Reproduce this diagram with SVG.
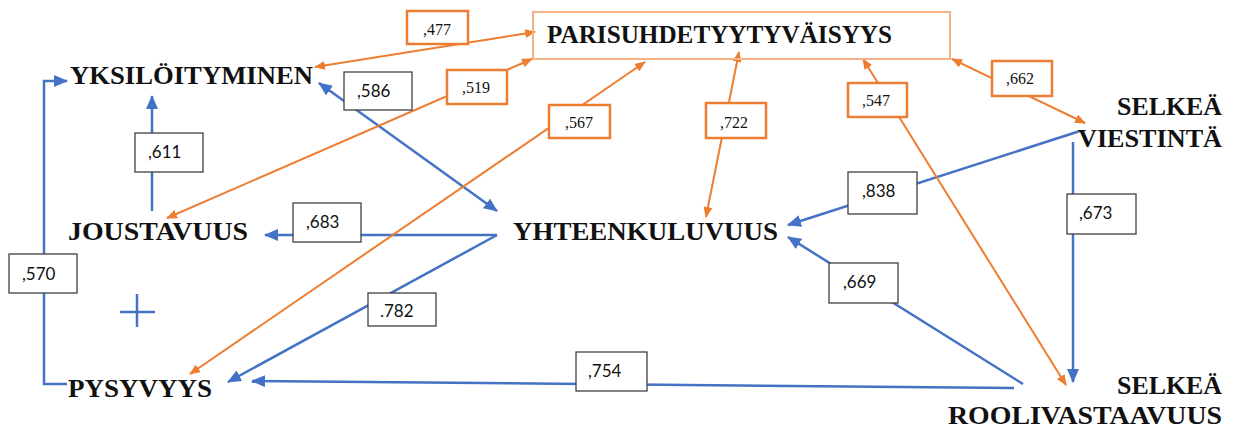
<svg xmlns="http://www.w3.org/2000/svg" width="1235" height="429" viewBox="0 0 1235 429">
<style>
.node{font-family:"Liberation Serif","Times New Roman",serif;font-weight:bold;font-size:26px;fill:#111}
.b{stroke:#4472C4;stroke-width:2.5;fill:none}
.o{stroke:#ED7D31;stroke-width:2;fill:none}
.bb{fill:#fff;stroke:#404040;stroke-width:1.3}
.ob{fill:#fff;stroke:#ED7D31;stroke-width:2.5}
.bt{font-family:Lato,"Liberation Sans",sans-serif;font-size:17px;fill:#111}
.ot{font-family:"Liberation Serif","Times New Roman",serif;font-size:16px;fill:#111}
</style>
<defs>
<marker id="ab" markerUnits="userSpaceOnUse" markerWidth="14" markerHeight="12" viewBox="0 0 14 12" refX="13" refY="6" orient="auto-start-reverse"><path d="M0,0 L14,6 L0,12 z" fill="#4472C4"/></marker>
<marker id="ao" markerUnits="userSpaceOnUse" markerWidth="11" markerHeight="9" viewBox="0 0 11 9" refX="10" refY="4.5" orient="auto-start-reverse"><path d="M0,0 L11,4.5 L0,9 z" fill="#ED7D31"/></marker>
</defs>
<rect width="1235" height="429" fill="#fff"/>
<g id="connectors">
<polyline class="b" points="67,384 44,384 44,81 67,81" marker-end="url(#ab)"/>
<line class="b" x1="152" y1="211" x2="152" y2="96" marker-end="url(#ab)"/>
<line class="b" x1="319" y1="83" x2="497" y2="211" marker-start="url(#ab)" marker-end="url(#ab)"/>
<line class="b" x1="497" y1="235" x2="265" y2="235" marker-end="url(#ab)"/>
<line class="b" x1="497" y1="235" x2="228" y2="382" marker-end="url(#ab)"/>
<line class="b" x1="1014" y1="388" x2="252" y2="381" marker-end="url(#ab)"/>
<line class="b" x1="1080" y1="131" x2="788" y2="225" marker-end="url(#ab)"/>
<line class="b" x1="1023" y1="384" x2="788" y2="237" marker-end="url(#ab)"/>
<line class="b" x1="1073" y1="142" x2="1073" y2="382" marker-end="url(#ab)"/>
<line class="o" x1="315" y1="67" x2="535" y2="32" marker-start="url(#ao)" marker-end="url(#ao)"/>
<line class="o" x1="532" y1="59" x2="167" y2="218" marker-start="url(#ao)" marker-end="url(#ao)"/>
<line class="o" x1="645" y1="62" x2="190" y2="374" marker-start="url(#ao)" marker-end="url(#ao)"/>
<line class="o" x1="739" y1="52" x2="706" y2="217" marker-start="url(#ao)" marker-end="url(#ao)"/>
<line class="o" x1="863" y1="59" x2="1066" y2="385" marker-start="url(#ao)" marker-end="url(#ao)"/>
<line class="o" x1="952" y1="59" x2="1085" y2="123" marker-start="url(#ao)" marker-end="url(#ao)"/>
<path class="b" d="M120,312 H155 M137,294 V327"/>
</g>
<g id="labels">
<rect class="ob" x="407" y="11" width="61" height="33"/><text class="ot" x="423" y="35">,477</text>
<rect class="ob" x="447" y="70" width="60" height="34"/><text class="ot" x="462" y="93">,519</text>
<rect class="ob" x="549" y="105" width="61" height="33"/><text class="ot" x="565" y="128">,567</text>
<rect class="ob" x="706" y="103" width="60" height="35"/><text class="ot" x="720" y="128">,722</text>
<rect class="ob" x="848" y="83" width="59" height="34"/><text class="ot" x="862" y="106">,547</text>
<rect class="ob" x="992" y="61" width="60" height="35"/><text class="ot" x="1006" y="84">,662</text>
<rect class="bb" x="344" y="72" width="68" height="38"/><text class="bt" x="357" y="97">,586</text>
<rect class="bb" x="135" y="133" width="68" height="39"/><text class="bt" x="148" y="158">,611</text>
<rect class="bb" x="293" y="203" width="68" height="39"/><text class="bt" x="306" y="228">,683</text>
<rect class="bb" x="9" y="254" width="68" height="39"/><text class="bt" x="22" y="280">,570</text>
<rect class="bb" x="368" y="293" width="68" height="33"/><text class="bt" x="380" y="317">.782</text>
<rect class="bb" x="576" y="352" width="71" height="39"/><text class="bt" x="588" y="377">,754</text>
<rect class="bb" x="848" y="172" width="69" height="42"/><text class="bt" x="862" y="197">,838</text>
<rect class="bb" x="1067" y="194" width="69" height="40"/><text class="bt" x="1079" y="219">,673</text>
<rect class="bb" x="829" y="263" width="69" height="40"/><text class="bt" x="843" y="288">,669</text>
</g>
<g id="node-parisuhde">
<rect x="533" y="12" width="417" height="47" fill="none" stroke="#F4B183" stroke-width="2"/>
<text class="node" x="547" y="43" textLength="345" lengthAdjust="spacingAndGlyphs">PARISUHDETYYTYVÄISYYS</text>
</g>
<g id="node-yksiloityminen"><text class="node" x="70" y="84" textLength="243" lengthAdjust="spacingAndGlyphs">YKSILÖITYMINEN</text></g>
<g id="node-joustavuus"><text class="node" x="68" y="240" textLength="180" lengthAdjust="spacingAndGlyphs">JOUSTAVUUS</text></g>
<g id="node-pysyvyys"><text class="node" x="68" y="397" textLength="144" lengthAdjust="spacingAndGlyphs">PYSYVYYS</text></g>
<g id="node-yhteenkuluvuus"><text class="node" x="513" y="240" textLength="265" lengthAdjust="spacingAndGlyphs">YHTEENKULUVUUS</text></g>
<g id="node-selkea-viestinta">
<text class="node" x="1117" y="115" textLength="105" lengthAdjust="spacingAndGlyphs">SELKEÄ</text>
<text class="node" x="1078" y="147" textLength="144" lengthAdjust="spacingAndGlyphs">VIESTINTÄ</text>
</g>
<g id="node-selkea-roolivastaavuus">
<text class="node" x="1117" y="394" textLength="105" lengthAdjust="spacingAndGlyphs">SELKEÄ</text>
<text class="node" x="948" y="424" textLength="274" lengthAdjust="spacingAndGlyphs">ROOLIVASTAAVUUS</text>
</g>
</svg>
